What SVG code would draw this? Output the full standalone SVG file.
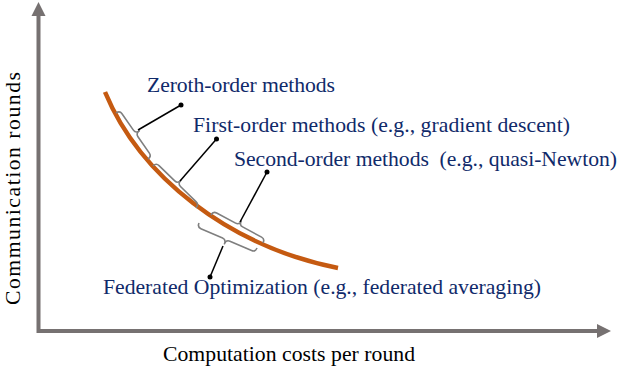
<svg xmlns="http://www.w3.org/2000/svg" width="618" height="368" viewBox="0 0 618 368">
<style>
.lbl{font-family:"Liberation Serif","Times New Roman",serif;font-size:21.7px;fill:#102a6a}
.ax{font-family:"Liberation Serif","Times New Roman",serif;font-size:21.7px;fill:#000}
.axis{fill:none;stroke:#767171;stroke-width:4}
.head{fill:#767171}
.brace{fill:none;stroke:#7f7f7f;stroke-width:1.6;stroke-linejoin:round}
.lead{stroke:#000;stroke-width:1.5}
.dot{fill:#000}
</style>
<rect width="618" height="368" fill="#fff"/>
<g id="axes">
<polyline class="axis" points="38.5,15 38.5,331 598,331"/>
<polygon class="head" points="38.5,2 31.5,16 45.5,16"/>
<polygon class="head" points="611,331 597,324 597,338"/>
<text class="ax" transform="translate(20,305) rotate(-90)" textLength="233">Communication rounds</text>
<text class="ax" x="163" y="361" textLength="252">Computation costs per round</text>
</g>
<g id="curve">
<path d="M105,92 C140,176 228,246 338,268" fill="none" stroke="#C55A11" stroke-width="4.5"/>
</g>
<g id="braces">
<path class="brace" transform="translate(116,113) rotate(55.2)" d="M0,0 Q0,-4.5 4,-4.5 L24,-4.5 Q28,-4.5 28,-9 Q28,-4.5 32,-4.5 L52,-4.5 Q56,-4.5 56,0"/>
<path class="brace" transform="translate(153,166) rotate(44.3)" d="M0,0 Q0,-4.5 4,-4.5 L26,-4.5 Q30,-4.5 30,-9 Q30,-4.5 34,-4.5 L56,-4.5 Q60,-4.5 60,0"/>
<path class="brace" transform="translate(211,215) rotate(28.3)" d="M0,0 Q0,-4.5 4,-4.5 L25.5,-4.5 Q29.5,-4.5 29.5,-9 Q29.5,-4.5 33.5,-4.5 L55,-4.5 Q59,-4.5 59,0"/>
<path class="brace" transform="translate(199,223) rotate(23.3)" d="M0,0 Q0,4.5 4,4.5 L27.6,4.5 Q31.6,4.5 31.6,9 Q31.6,4.5 35.6,4.5 L59.2,4.5 Q63.2,4.5 63.2,0"/>
</g>
<g id="connectors">
<line class="lead" x1="138" y1="130" x2="181" y2="105"/>
<circle class="dot" cx="181" cy="105" r="2.5"/>
<line class="lead" x1="180" y1="181" x2="216.5" y2="139"/>
<circle class="dot" cx="216.5" cy="139" r="2.5"/>
<line class="lead" x1="240" y1="222" x2="267" y2="172"/>
<circle class="dot" cx="267" cy="172" r="2.5"/>
<line class="lead" x1="223" y1="246" x2="210" y2="277"/>
<circle class="dot" cx="210" cy="277" r="2.5"/>
</g>
<g id="label-zeroth"><text class="lbl" x="147" y="92" textLength="188">Zeroth-order methods</text></g>
<g id="label-first"><text class="lbl" x="193" y="132" textLength="377">First-order methods (e.g., gradient descent)</text></g>
<g id="label-second"><text class="lbl" x="234" y="166" textLength="383" xml:space="preserve">Second-order methods  (e.g., quasi-Newton)</text></g>
<g id="label-federated"><text class="lbl" x="103" y="294" textLength="438">Federated Optimization (e.g., federated averaging)</text></g>
</svg>
